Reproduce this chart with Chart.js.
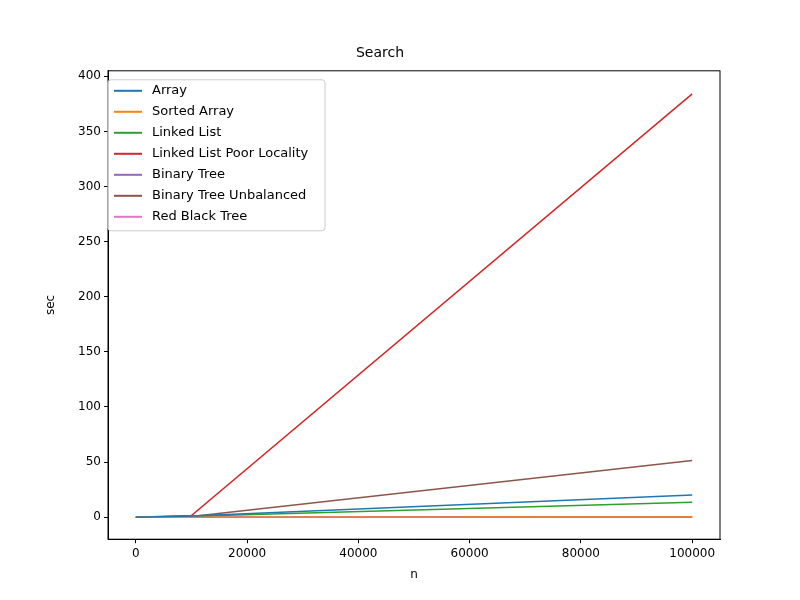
<!DOCTYPE html>
<html>
<head>
<script src="https://cdn.jsdelivr.net/npm/chart.js@4/dist/chart.umd.min.js"></script>
<style>body{margin:0;background:#fff}#wrap{width:800px;height:600px}</style>
</head>
<body>
<div id="wrap"><canvas id="c" width="800" height="600"></canvas></div>
<script>
// sample sizes and search times (sec)
const nValues = [0, 10000, 100000];
const seriesNames = ["Array", "Sorted Array", "Linked List", "Linked List Poor Locality",
  "Binary Tree", "Binary Tree Unbalanced", "Red Black Tree"];
const array = [0, 1.0, 20.0];
const sortedArray = [0, 0.02, 0.2];
const linkedList = [0, 0.8, 13.5];
const linkedListPoor = [0, 1.5, 384];
const binaryTree = [0, 0.01, 0.1];
const binaryTreeUnbalanced = [0, 0.5, 51.5];
const redBlackTree = [0, 0.01, 0.1];
const colors = ["#1f77b4", "#ff7f0e", "#2ca02c", "#d62728", "#9467bd", "#8c564b", "#e377c2"];
const yTicks = [0, 50, 100, 150, 200, 250, 300, 350, 400];
const xTicks = [0, 20000, 40000, 60000, 80000, 100000];

const allSeries = [array, sortedArray, linkedList, linkedListPoor, binaryTree, binaryTreeUnbalanced, redBlackTree];
const datasets = allSeries.map((vals, i) => ({
  label: seriesNames[i],
  data: vals.map((v, j) => ({ x: nValues[j], y: v })),
  borderColor: colors[i],
  backgroundColor: colors[i],
  borderWidth: 1.5,
  pointRadius: 0,
  fill: false
}));

const font = { family: "DejaVu Sans", size: 12 };
const tickGrid = { display: true, drawOnChartArea: false, drawTicks: true, tickLength: 4, color: "#000" };
new Chart(document.getElementById("c"), {
  type: "line",
  data: { datasets },
  options: {
    responsive: false,
    animation: false,
    layout: { padding: { left: 40, right: 80, top: 0, bottom: 14 } },
    plugins: {
      title: { display: true, text: "Search", color: "#000", font: { family: "DejaVu Sans", size: 14, weight: "normal" }, padding: { top: 45, bottom: 9 } },
      legend: { display: false },
      tooltip: { enabled: false }
    },
    scales: {
      x: {
        type: "linear", min: -5000, max: 105000,
        afterBuildTicks: s => { s.ticks = xTicks.map(v => ({ value: v })); },
        grid: tickGrid,
        border: { color: "#000" },
        ticks: { color: "#000", font, callback: v => String(v), maxRotation: 0 },
        title: { display: true, text: "n", color: "#000", font }
      },
      y: {
        min: -20, max: 405,
        afterBuildTicks: s => { s.ticks = yTicks.map(v => ({ value: v })); },
        afterFit: s => { s.width = 68; },
        grid: tickGrid,
        border: { color: "#000" },
        ticks: { color: "#000", font },
        title: { display: true, text: "sec", color: "#000", font }
      }
    }
  },
  plugins: [{
    id: "frameLegend",
    afterDraw(chart) {
      const { ctx, chartArea: a } = chart;
      ctx.save();
      ctx.strokeStyle = "#000"; ctx.lineWidth = 1;
      ctx.strokeRect(a.left, a.top, a.right - a.left, a.bottom - a.top);
      // legend box
      const x0 = a.left + 0, y0 = a.top + 9, w = 217, h = 151;
      ctx.fillStyle = "rgba(255,255,255,0.8)";
      ctx.strokeStyle = "#ccc";
      ctx.beginPath(); ctx.roundRect(x0, y0, w, h, 3); ctx.fill(); ctx.stroke();
      ctx.font = "13px 'DejaVu Sans'"; ctx.textBaseline = "middle";
      seriesNames.forEach((name, i) => {
        const y = y0 + 11 + i * 21;
        ctx.strokeStyle = colors[i]; ctx.lineWidth = 2;
        ctx.beginPath(); ctx.moveTo(x0 + 6, y); ctx.lineTo(x0 + 34, y); ctx.stroke();
        ctx.fillStyle = "#000"; ctx.fillText(name, x0 + 44, y);
      });
      ctx.restore();
    }
  }]
});
</script>
</body>
</html>
